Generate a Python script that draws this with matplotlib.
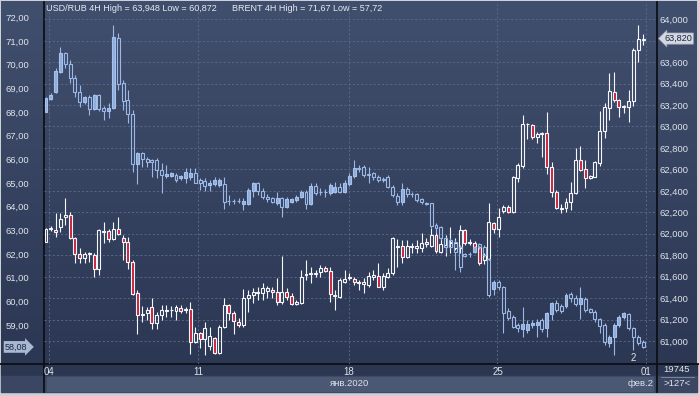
import numpy as np
import matplotlib
matplotlib.use("Agg")
import matplotlib.pyplot as plt
from matplotlib.patches import Rectangle
from matplotlib.colors import LinearSegmentedColormap
from matplotlib.transforms import blended_transform_factory

plt.rcParams["font.family"] = ["Liberation Sans", "DejaVu Sans"]

# USD/RUB 4H candles (right axis)
usd_open = [
    61.926, 62.048, 62.035, 62.066, 62.153, 62.175, 61.957, 61.811, 61.771, 61.814,
    61.802, 61.668, 62.016, 62.029, 61.948, 62.041, 61.957, 61.920, 61.740, 61.451,
    61.249, 61.258, 61.314, 61.165, 61.243, 61.280, 61.286, 61.283, 61.305, 61.292,
    61.295, 60.994, 61.072, 61.016, 60.953, 61.031, 60.885, 61.134, 61.336, 61.264,
    61.180, 61.149, 61.398, 61.429, 61.448, 61.451, 61.466, 61.476, 61.454, 61.367,
    61.460, 61.420, 61.345, 61.351, 61.615, 61.625, 61.628, 61.647, 61.678, 61.656,
    61.429, 61.413, 61.553, 61.591, 61.575, 61.553, 61.532, 61.522, 61.594, 61.606,
    61.500, 61.594, 61.631, 61.880, 61.886, 61.787, 61.877, 61.867, 61.864, 61.923,
    61.886, 61.989, 61.833, 61.873, 61.911, 61.864, 61.864, 62.035, 61.920, 61.911,
    61.873, 61.755, 61.765, 62.104, 62.041, 62.215, 62.253, 62.206, 62.517, 62.635,
    63.021, 63.011, 62.899, 62.933, 62.937, 62.620, 62.393, 62.234, 62.237, 62.293,
    62.377, 62.688, 62.601, 62.517, 62.532, 62.663, 62.958, 63.176, 63.325, 63.247,
    63.182, 63.185, 63.238, 63.714, 63.804]
usd_high = [
    62.050, 62.072, 62.191, 62.191, 62.330, 62.200, 61.973, 61.864, 61.833, 61.833,
    61.824, 62.041, 62.113, 62.041, 62.113, 62.159, 61.989, 61.973, 61.755, 61.476,
    61.326, 61.320, 61.398, 61.274, 61.336, 61.336, 61.326, 61.336, 61.336, 61.320,
    61.367, 61.134, 61.087, 61.180, 61.134, 61.040, 61.149, 61.398, 61.345, 61.283,
    61.211, 61.482, 61.476, 61.491, 61.507, 61.538, 61.513, 61.507, 61.584, 61.793,
    61.491, 61.445, 61.382, 61.662, 61.755, 61.693, 61.662, 61.709, 61.700, 61.693,
    61.476, 61.584, 61.662, 61.631, 61.600, 61.569, 61.584, 61.647, 61.662, 61.724,
    61.631, 61.678, 61.973, 61.948, 61.942, 61.942, 61.911, 61.942, 62.004, 61.957,
    62.051, 62.035, 61.948, 61.989, 62.066, 61.957, 62.079, 62.041, 61.948, 61.936,
    61.886, 61.818, 62.284, 62.113, 62.237, 62.268, 62.268, 62.539, 62.657, 63.108,
    63.036, 63.024, 62.952, 62.952, 63.139, 62.672, 62.408, 62.278, 62.330, 62.486,
    62.797, 62.818, 62.688, 62.548, 62.682, 63.145, 63.216, 63.496, 63.512, 63.260,
    63.201, 63.341, 63.729, 63.948, 63.860]
usd_low = [
    61.920, 62.029, 61.973, 62.020, 62.082, 61.948, 61.731, 61.731, 61.731, 61.740,
    61.600, 61.615, 61.911, 61.926, 61.942, 61.989, 61.755, 61.668, 61.429, 61.065,
    61.180, 61.196, 61.109, 61.109, 61.196, 61.227, 61.227, 61.196, 61.258, 61.264,
    60.876, 60.978, 60.932, 60.872, 60.916, 60.879, 60.879, 61.118, 61.196, 61.065,
    61.134, 61.134, 61.274, 61.351, 61.382, 61.382, 61.398, 61.398, 61.336, 61.345,
    61.382, 61.336, 61.336, 61.345, 61.569, 61.538, 61.600, 61.600, 61.647, 61.367,
    61.289, 61.404, 61.538, 61.569, 61.522, 61.476, 61.445, 61.507, 61.569, 61.500,
    61.476, 61.584, 61.615, 61.693, 61.724, 61.771, 61.818, 61.818, 61.833, 61.880,
    61.873, 61.818, 61.818, 61.793, 61.818, 61.849, 61.824, 61.895, 61.895, 61.864,
    61.709, 61.718, 61.755, 62.004, 61.973, 62.191, 62.191, 62.191, 62.486, 62.610,
    62.881, 62.887, 62.850, 62.713, 62.557, 62.346, 62.228, 62.197, 62.203, 62.222,
    62.371, 62.588, 62.424, 62.508, 62.526, 62.632, 62.890, 63.061, 63.232, 63.092,
    63.123, 63.045, 63.191, 63.605, 63.760]
usd_close = [
    62.041, 62.054, 62.013, 62.135, 62.175, 61.957, 61.811, 61.771, 61.811, 61.821,
    61.668, 62.035, 62.023, 61.948, 62.041, 61.998, 61.920, 61.740, 61.438, 61.243,
    61.243, 61.289, 61.171, 61.243, 61.289, 61.286, 61.292, 61.314, 61.283, 61.295,
    60.994, 61.072, 61.016, 61.118, 61.047, 60.891, 61.134, 61.336, 61.264, 61.190,
    61.149, 61.398, 61.429, 61.454, 61.454, 61.491, 61.491, 61.454, 61.367, 61.460,
    61.413, 61.345, 61.367, 61.600, 61.625, 61.631, 61.634, 61.678, 61.656, 61.438,
    61.423, 61.569, 61.575, 61.597, 61.553, 61.538, 61.553, 61.606, 61.615, 61.507,
    61.606, 61.637, 61.957, 61.889, 61.787, 61.886, 61.883, 61.886, 61.917, 61.905,
    61.989, 61.842, 61.902, 61.892, 61.920, 61.917, 62.035, 61.911, 61.914, 61.873,
    61.724, 61.802, 62.113, 62.041, 62.153, 62.253, 62.206, 62.532, 62.641, 63.024,
    63.027, 62.899, 62.927, 62.940, 62.620, 62.393, 62.237, 62.240, 62.293, 62.377,
    62.688, 62.595, 62.517, 62.539, 62.672, 62.958, 63.185, 63.331, 63.247, 63.185,
    63.188, 63.238, 63.714, 63.813, 63.820]

# BRENT 4H candles (left axis)
brent_open = [
    68.014, 68.549, 68.859, 69.703, 70.506, 70.013, 69.422, 68.859, 68.408, 68.620,
    68.113, 68.704, 68.183, 68.042, 68.155, 71.111, 69.211, 68.507, 67.902, 65.804,
    66.283, 66.001, 65.973, 65.973, 65.551, 65.297, 65.297, 65.340, 65.199, 65.227,
    65.269, 65.410, 65.129, 65.100, 64.917, 64.960, 64.917, 64.945, 64.242, 64.256,
    64.242, 64.115, 64.101, 64.678, 64.988, 64.678, 64.425, 64.354, 64.143, 64.354,
    64.002, 64.213, 64.284, 64.425, 64.636, 64.115, 64.875, 64.636, 64.622, 64.565,
    64.636, 64.847, 64.636, 64.945, 65.297, 65.621, 65.663, 65.368, 65.410, 65.241,
    65.157, 65.241, 64.819, 64.453, 64.213, 64.734, 64.537, 64.537, 64.312, 64.157,
    64.143, 63.228, 63.130, 62.665, 62.595, 62.524, 62.313, 62.002, 62.002, 62.073,
    62.426, 62.313, 61.778, 60.511, 60.835, 60.596, 59.610, 59.357, 59.005, 58.822,
    58.794, 59.005, 59.005, 59.216, 58.864, 59.470, 59.948, 59.807, 59.807, 60.314,
    60.159, 59.892, 60.103, 59.666, 59.568, 59.244, 59.005, 58.259, 58.484, 59.005,
    59.329, 59.470, 58.864, 58.484, 58.301]
brent_high = [
    68.648, 68.788, 69.844, 70.759, 70.548, 70.196, 69.563, 69.140, 68.676, 68.718,
    68.746, 68.746, 68.254, 68.366, 71.670, 71.322, 69.352, 68.929, 68.085, 66.325,
    66.325, 66.114, 66.001, 66.043, 65.832, 65.762, 65.480, 65.410, 65.340, 65.621,
    65.621, 65.621, 65.199, 65.199, 65.129, 65.269, 65.199, 65.269, 64.495, 64.312,
    64.354, 64.354, 64.777, 65.058, 65.058, 64.777, 64.537, 64.425, 64.636, 64.425,
    64.425, 64.354, 64.495, 64.706, 64.706, 64.988, 64.988, 64.777, 64.734, 64.988,
    65.058, 64.988, 65.129, 65.410, 65.973, 65.762, 65.762, 65.691, 65.480, 65.340,
    65.269, 65.340, 64.917, 64.565, 65.016, 64.819, 64.636, 64.594, 64.354, 64.213,
    64.171, 63.298, 63.186, 62.735, 62.665, 62.595, 62.384, 62.059, 62.102, 62.341,
    62.482, 62.384, 61.820, 60.905, 60.905, 60.652, 59.709, 59.427, 59.075, 59.779,
    59.216, 59.216, 59.244, 59.286, 59.568, 59.990, 60.060, 59.892, 60.342, 60.413,
    60.272, 60.624, 60.173, 59.709, 59.638, 59.286, 59.075, 58.583, 59.075, 59.427,
    59.568, 59.526, 58.935, 58.583, 58.371]
brent_low = [
    67.990, 68.507, 68.817, 69.661, 69.844, 69.211, 68.648, 68.197, 68.338, 67.873,
    68.085, 68.056, 67.662, 67.733, 68.113, 68.929, 68.085, 67.521, 65.480, 64.960,
    65.691, 65.691, 65.269, 65.199, 64.565, 65.199, 65.241, 65.058, 65.129, 65.016,
    65.129, 64.988, 64.706, 64.678, 64.678, 64.875, 64.847, 63.890, 64.073, 64.115,
    64.143, 63.861, 64.073, 64.425, 64.495, 64.312, 64.213, 64.171, 64.073, 63.580,
    63.932, 64.143, 64.213, 64.354, 63.890, 64.073, 64.495, 64.495, 64.425, 64.495,
    64.594, 64.565, 64.565, 64.875, 65.199, 65.480, 65.269, 64.988, 65.129, 65.058,
    65.058, 64.777, 64.425, 64.073, 64.073, 64.425, 64.425, 64.213, 64.115, 64.073,
    63.087, 62.876, 62.595, 62.030, 62.243, 61.328, 61.257, 61.862, 61.890, 62.030,
    62.200, 61.890, 60.201, 60.272, 60.483, 58.681, 59.216, 58.864, 58.723, 58.484,
    58.653, 58.864, 58.512, 58.723, 58.484, 59.216, 59.568, 59.498, 59.709, 59.990,
    59.807, 59.244, 59.568, 59.498, 59.146, 58.653, 58.160, 58.090, 57.720, 58.935,
    59.244, 58.794, 57.949, 58.160, 58.019]
brent_close = [
    68.577, 68.718, 69.746, 70.506, 70.013, 69.422, 68.859, 68.437, 68.620, 68.113,
    68.704, 68.127, 68.042, 68.183, 71.153, 69.169, 68.479, 67.902, 65.804, 66.255,
    66.001, 65.903, 65.903, 65.551, 65.340, 65.382, 65.410, 65.129, 65.297, 65.452,
    65.438, 65.016, 65.016, 64.889, 65.016, 65.129, 65.129, 64.213, 64.227, 64.242,
    64.227, 64.242, 64.706, 64.988, 64.678, 64.425, 64.326, 64.213, 64.354, 63.974,
    64.312, 64.312, 64.425, 64.636, 64.115, 64.875, 64.565, 64.622, 64.636, 64.917,
    64.847, 64.636, 64.988, 65.297, 65.621, 65.607, 65.340, 65.354, 65.241, 65.129,
    65.143, 64.847, 64.495, 64.213, 64.734, 64.523, 64.523, 64.284, 64.213, 64.129,
    63.200, 63.087, 62.665, 62.313, 62.313, 62.102, 61.468, 61.919, 61.988, 62.285,
    62.313, 61.960, 60.272, 60.835, 60.596, 59.526, 59.286, 58.935, 58.864, 59.047,
    59.047, 59.103, 59.146, 58.822, 59.498, 59.948, 59.638, 59.610, 60.272, 60.131,
    59.892, 60.131, 59.638, 59.568, 59.244, 58.963, 58.301, 58.484, 59.005, 59.329,
    59.498, 58.864, 58.484, 58.259, 58.080]

week_labels = ["04", "11", "18", "25", "01"]
week_pos = [0.62, 31.57, 62.93, 93.77, 124.6]
usd_ticks = [61.0, 61.2, 61.4, 61.6, 61.8, 62.0, 62.2, 62.4, 62.6, 62.8,
             63.0, 63.2, 63.4, 63.6, 63.8, 64.0]
brent_ticks = [59, 60, 61, 62, 63, 64, 65, 66, 67, 68, 69, 70, 71, 72]

W, H = 699, 396
TXT = "#dfe3ea"


def comma(v, nd):
    return f"{v:.{nd}f}".replace(".", ",")


def draw_candles(ax, o, h, l, c, up_face, up_edge, dn_face, dn_edge, wick):
    o, h, l, c = (np.asarray(a, dtype=float) for a in (o, h, l, c))
    x = np.arange(len(o))
    top = np.maximum(o, c)
    bot = np.minimum(o, c)
    ax.vlines(x, top, h, color=wick, lw=0.8, zorder=3)
    ax.vlines(x, l, bot, color=wick, lw=0.8, zorder=3)
    up = c >= o
    dn = ~up
    ax.bar(x[up], (top - bot)[up], bottom=bot[up], width=0.62,
           facecolor=up_face, edgecolor=up_edge, lw=0.8, zorder=4)
    ax.bar(x[dn], (top - bot)[dn], bottom=bot[dn], width=0.62,
           facecolor=dn_face, edgecolor=dn_edge, lw=0.8, zorder=4)


fig = plt.figure(figsize=(W / 100, H / 100), dpi=100)
fig.patch.set_facecolor("#cdd0d6")

# panel background drawn in pixel coordinates
bg = fig.add_axes([0, 0, 1, 1])
bg.set_xlim(0, W)
bg.set_ylim(H, 0)
bg.axis("off")
cmap = LinearSegmentedColormap.from_list("panel", ["#414f6e", "#2b3753"])
bg.imshow(np.linspace(0, 1, 256).reshape(-1, 1), cmap=cmap, aspect="auto",
          extent=(1, 697, 364, 1))
bg.add_patch(Rectangle((1, 364), 696, 12, color="#2b3651"))
bg.add_patch(Rectangle((1, 376), 696, 16, color="#3b4762"))
bg.add_patch(Rectangle((47, 377), 606, 14, color="#4b5874"))
bg.plot([0, W], [364, 364], color="#0c1017", lw=1.3)
bg.plot([44.3, 44.3], [2, 392], color="#0c1017", lw=1.3)
bg.plot([657, 657], [2, 392], color="#0c1017", lw=1.3)
bg.plot([661, 694], [377, 377], color="#8792a6", lw=0.6)

# main axes: USD/RUB below (right ticks, grid), BRENT twin on top (left ticks)
ax = fig.add_axes([44.3 / W, 1 - 364 / H, (657 - 44.3) / W, (364 - 2) / H])
ax.patch.set_alpha(0)
ax2 = ax.twinx()
ax2.patch.set_alpha(0)
for a in (ax, ax2):
    for s in a.spines.values():
        s.set_visible(False)

ax.set_xlim(-0.353, 126.9)
ax.set_ylim(60.785, 64.161)
ax2.set_ylim(57.359, 72.646)

# the tick hidden under the last-price tag gets no label
usd_labels = ["" if abs(v - usd_close[-1]) < 0.1 else comma(v, 3) for v in usd_ticks]
ax.set_yticks(usd_ticks)
ax.set_yticklabels(usd_labels)
ax.yaxis.tick_right()
ax.tick_params(axis="y", length=0, pad=1.5, labelsize=6.8, labelcolor=TXT)
ax.set_xticks(week_pos)
ax.set_xticklabels(week_labels)
ax.tick_params(axis="x", length=0, pad=2.5, labelsize=7, labelcolor=TXT)
ax.grid(True, color="#5d6c8b", lw=0.6, ls=(0, (2.5, 2.5)))

ax2.set_yticks(brent_ticks)
ax2.set_yticklabels([comma(v, 2) for v in brent_ticks])
ax2.yaxis.tick_left()
ax2.tick_params(axis="y", length=0, pad=11, labelsize=6.8, labelcolor=TXT)

draw_candles(ax, usd_open, usd_high, usd_low, usd_close,
             "none", "#f4f6fa", "#c8213c", "#f4f6fa", "#f4f6fa")
draw_candles(ax2, brent_open, brent_high, brent_low, brent_close,
             "#8cadde", "#a6c1ea", "none", "#9cb8e6", "#9cb8e6")

# headline
fig.text(46 / W, 1 - 8.5 / H,
         f"USD/RUB 4H High = {comma(max(usd_high), 3)} Low = {comma(min(usd_low), 3)}",
         fontsize=6.5, color="#e6e9ef", va="center", ha="left")
fig.text(232 / W, 1 - 8.5 / H,
         f"BRENT 4H High = {comma(max(brent_high), 2)} Low = {comma(min(brent_low), 2)}",
         fontsize=6.5, color="#e6e9ef", va="center", ha="left")

# last-price tags
tr_left = blended_transform_factory(ax2.transAxes, ax2.transData)
ax2.text(-0.064, brent_close[-1], comma(brent_close[-1], 2), transform=tr_left,
         fontsize=6.5, color="#1c2640", ha="left", va="center", zorder=10,
         bbox=dict(boxstyle="rarrow,pad=0.15", fc="#a9b9d2", ec="none"))
tr_right = blended_transform_factory(ax2.transAxes, ax.transData)
ax2.text(1.012, usd_close[-1], comma(usd_close[-1], 3), transform=tr_right,
         fontsize=6.6, color="#1c2640", ha="left", va="center", zorder=10,
         bbox=dict(boxstyle="larrow,pad=0.12", fc="#d3d8e1", ec="#9aa4b5", lw=0.5))

# bottom strip labels
fig.text(350 / W, 1 - 383.5 / H, "янв.2020", fontsize=6.8, color=TXT, ha="center", va="center")
fig.text(641 / W, 1 - 383.5 / H, "фев.2", fontsize=6.8, color=TXT, ha="center", va="center")
fig.text(677 / W, 1 - 370 / H, "19745", fontsize=6.8, color=TXT, ha="center", va="center")
fig.text(677 / W, 1 - 384 / H, ">127<", fontsize=6.8, color=TXT, ha="center", va="center")
fig.text(633 / W, 1 - 358 / H, "2", fontsize=7, color=TXT, ha="center", va="center")

fig.savefig("out.png", dpi=100, facecolor=fig.get_facecolor())
